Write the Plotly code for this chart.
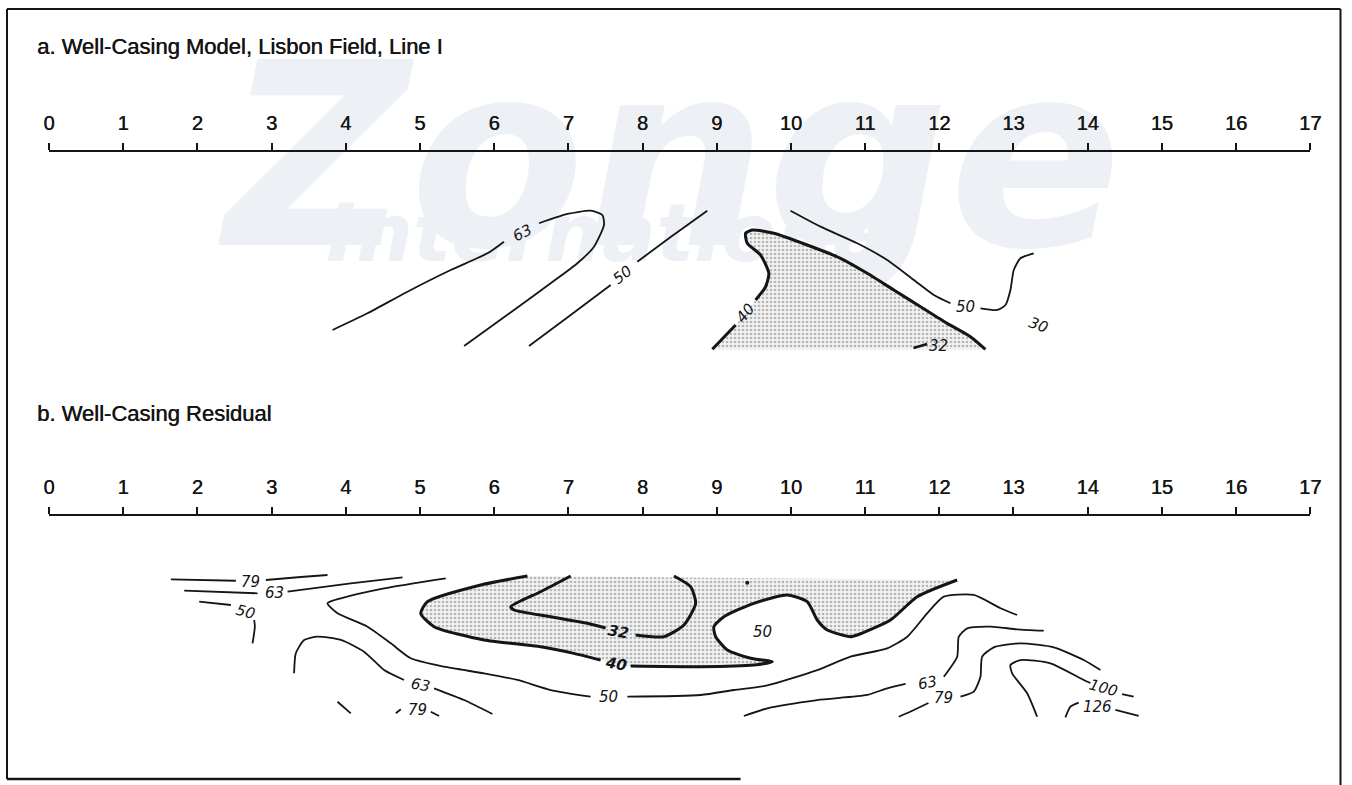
import plotly.graph_objects as go

# ---------------- data ----------------
stations = list(range(18))
station_labels = [str(s) for s in stations]

# Panel a (Well-Casing Model) contours: x = station, y = depth below profile line
a63_x = [3.822, 4.293, 4.832, 5.415, 5.910, 6.133, None, 6.605, 6.987, 7.301, 7.459, 7.481, 7.346, 7.122, 6.762, 6.268, 5.595]
a63_y = [2.398, 2.173, 1.882, 1.590, 1.365, 1.208, None, 0.960, 0.835, 0.791, 0.849, 0.983, 1.276, 1.499, 1.769, 2.128, 2.613]

a50L_x = [6.470, 7.032, 7.571, None, 7.930, 8.379, 8.873]
a50L_y = [2.613, 2.196, 1.792, None, 1.478, 1.145, 0.791]

a40_x = [8.941, 9.255, 9.389, 9.524, 9.659, 9.703, 9.592, 9.412, 9.389, 9.480, 9.771, 10.220, 10.669, 11.029, 11.387, 11.747, 12.106, 12.420, 12.622]
a40_y = [2.658, 2.331, 2.173, 1.994, 1.815, 1.634, 1.388, 1.230, 1.095, 1.051, 1.095, 1.253, 1.432, 1.634, 1.859, 2.084, 2.308, 2.488, 2.658]
a40_line_x = [8.941, 9.255, None, 9.524, 9.659, 9.703, 9.592, 9.412, 9.389, 9.480, 9.771, 10.220, 10.669, 11.029, 11.387, 11.747, 12.106, 12.420, 12.622]
a40_line_y = [2.658, 2.331, None, 1.994, 1.815, 1.634, 1.388, 1.230, 1.095, 1.051, 1.095, 1.253, 1.432, 1.634, 1.859, 2.084, 2.308, 2.488, 2.658]

a32_x = [11.652, 11.837]
a32_y = [2.640, 2.586]

a50R_x = [9.995, 10.400, 10.894, 11.298, 11.657, 11.926, 12.151, None, 12.555, 12.780, 12.892, 12.959, 13.004, 13.094, 13.273]
a50R_y = [0.791, 1.006, 1.230, 1.455, 1.724, 1.926, 2.038, None, 2.106, 2.128, 2.061, 1.859, 1.590, 1.432, 1.365]

# Panel a contour labels: text, x, y, angle
a_lab_text = ["63", "50", "40", "32", "50", "30"]
a_lab_x = [6.381, 7.728, 9.389, 11.989, 12.353, 13.336]
a_lab_y = [1.095, 1.657, 2.173, 2.613, 2.084, 2.331]
a_lab_ang = [-28, -38, -50, 0, 0, 20]

# Panel b (Well-Casing Residual) contours
b79TL_x = [1.643, 2.519, None, 2.923, 3.395, 3.754]
b79TL_y = [0.853, 0.872, None, 0.862, 0.822, 0.795]
b63TL_x = [1.823, 2.811, None, 3.216, 4.068, 4.765]
b63TL_y = [1.006, 1.041, None, 1.020, 0.907, 0.826]
b50TL_x = [2.025, 2.452, None, 2.766, 2.775, 2.744]
b50TL_y = [1.154, 1.199, None, 1.401, 1.491, 1.715]

b50_x = [5.348, 4.517, 3.934, 3.754, 3.889, 4.293, 4.607, 4.877, 5.325, 5.864, 6.314, 6.762, 7.301, None,
         7.796, 8.783, 9.232, 9.682, 10.355, 10.804, 11.298, 11.568, 11.837, 12.061, 12.465, 12.825, 13.049]
b50_y = [0.839, 0.974, 1.109, 1.176, 1.311, 1.491, 1.715, 1.917, 2.030, 2.119, 2.209, 2.344, 2.434, None,
         2.434, 2.411, 2.344, 2.283, 2.075, 1.895, 1.782, 1.626, 1.311, 1.087, 1.064, 1.243, 1.334]

b40_x = [6.449, 5.820, 5.101, 5.011, 5.190, 5.864, 6.628, 7.076, 7.436, 7.638, 7.840, 8.783, 9.501, 9.749,
         9.457, 9.143, 8.985, 8.962, 9.097, 9.501, 9.951, 10.220, 10.355, 10.490, 10.804, 10.894, 11.343, 11.702, 12.241]
b40_y = [0.808, 0.929, 1.154, 1.311, 1.491, 1.670, 1.761, 1.850, 1.940, 1.994, 2.021, 2.030, 2.007, 1.963,
         1.917, 1.805, 1.626, 1.491, 1.357, 1.176, 1.064, 1.154, 1.401, 1.536, 1.626, 1.603, 1.401, 1.087, 0.862]
b40_line_x = [6.449, 5.820, 5.101, 5.011, 5.190, 5.864, 6.628, 7.076, 7.436, None, 7.840, 8.783, 9.501, 9.749,
              9.457, 9.143, 8.985, 8.962, 9.097, 9.501, 9.951, 10.220, 10.355, 10.490, 10.804, 10.894, 11.343, 11.702, 12.241]
b40_line_y = [0.808, 0.929, 1.154, 1.311, 1.491, 1.670, 1.761, 1.850, 1.940, None, 2.021, 2.030, 2.007, 1.963,
              1.917, 1.805, 1.626, 1.491, 1.357, 1.176, 1.064, 1.154, 1.401, 1.536, 1.626, 1.603, 1.401, 1.087, 0.862]

b32_x = [7.032, 6.628, 6.224, 6.268, 6.762, 7.257, 7.503, None, 7.907, 8.289, 8.558, 8.716, 8.648, 8.424]
b32_y = [0.808, 1.020, 1.222, 1.266, 1.357, 1.445, 1.509, None, 1.603, 1.626, 1.468, 1.176, 0.952, 0.808]

b63BL_x = [3.304, 3.327, 3.439, 3.620, 3.934, 4.247, 4.517, 4.786, None, 5.190, 5.595, 5.977]
b63BL_y = [2.119, 1.850, 1.670, 1.626, 1.670, 1.828, 2.075, 2.209, None, 2.321, 2.479, 2.667]

b79BL_x = [3.889, 4.068, None, 4.675, 4.742, None, 5.146, 5.258]
b79BL_y = [2.502, 2.658, None, 2.658, 2.604, None, 2.636, 2.694]

b63R_x = [9.366, 9.682, 10.355, 11.029, 11.298, 11.545, None, 12.061, 12.241, 12.263, 12.376, 12.690, 13.049, 13.408]
b63R_y = [2.694, 2.590, 2.479, 2.411, 2.321, 2.263, None, 2.165, 1.895, 1.626, 1.513, 1.491, 1.526, 1.545]

b79R_x = [11.454, 11.657, 11.854, None, 12.286, 12.465, 12.555, 12.578, 12.734, 13.094, 13.543, 13.947, 14.172]
b79R_y = [2.704, 2.613, 2.519, None, 2.434, 2.367, 2.165, 1.895, 1.769, 1.715, 1.769, 1.940, 2.075]

b100_x = [13.319, 13.184, 12.982, 12.959, 13.094, 13.498, 13.947, 14.037, None, 14.464, 14.620]
b100_y = [2.704, 2.388, 2.119, 2.007, 1.940, 1.984, 2.209, 2.250, None, 2.398, 2.434]

b126_x = [13.700, 13.768, 13.879, None, 14.374, 14.687]
b126_y = [2.712, 2.569, 2.515, None, 2.613, 2.694]

b_dot_x = [9.412]
b_dot_y = [0.899]

b_lab_text = ["79", "63", "50", "50", "40", "32", "50", "63", "79", "63", "79", "100", "126"]
b_lab_x = [2.721, 3.035, 2.654, 7.548, 7.638, 7.683, 9.614, 5.011, 4.967, 11.837, 12.061, 14.216, 14.127]
b_lab_y = [0.885, 1.041, 1.289, 2.442, 1.994, 1.559, 1.559, 2.277, 2.613, 2.254, 2.456, 2.321, 2.569]
b_lab_ang = [0, 0, 15, 0, 10, 10, 0, 10, 0, -10, 0, 15, 0]

titles = ["a. Well-Casing Model, Lisbon Field, Line I", "b. Well-Casing Residual"]

# ---------------- figure ----------------
W, H = 1352, 785
INK = "#151515"
fig = go.Figure()


def px(t):
    """horizontal page position (px) -> paper fraction, with a small capture correction"""
    return min(max((t - 5) / 0.988, 0.5), W - 0.5) / W


def py(t):
    return 1 - t / H


def line(x, y, xa, ya, width=1.8):
    fig.add_trace(go.Scatter(x=x, y=y, xaxis=xa, yaxis=ya, mode="lines",
                             line=dict(color=INK, width=width, shape="spline", smoothing=0.6),
                             connectgaps=False, hoverinfo="skip", showlegend=False))


def stipple(x, y, xa, ya):
    fig.add_trace(go.Scatter(x=x, y=y, xaxis=xa, yaxis=ya, mode="lines", fill="toself",
                             line=dict(width=0, color="rgba(0,0,0,0)", shape="spline", smoothing=0.6),
                             fillcolor="rgba(0,0,0,0)",
                             fillpattern=dict(shape=".", fgcolor="#7a7a7a", bgcolor="#f2f2f2",
                                              size=4, solidity=0.35),
                             hoverinfo="skip", showlegend=False))


# panel a
stipple(a40_x, a40_y, "x", "y")
line(a63_x, a63_y, "x", "y")
line(a50L_x, a50L_y, "x", "y")
line(a40_line_x, a40_line_y, "x", "y", 3)
line(a50R_x, a50R_y, "x", "y")
line(a32_x, a32_y, "x", "y", 2.5)

# panel b
stipple(b40_x, b40_y, "x2", "y2")
line(b79TL_x, b79TL_y, "x2", "y2")
line(b63TL_x, b63TL_y, "x2", "y2")
line(b50TL_x, b50TL_y, "x2", "y2")
line(b50_x, b50_y, "x2", "y2")
line(b40_line_x, b40_line_y, "x2", "y2", 3)
line(b32_x, b32_y, "x2", "y2", 3)
line(b63BL_x, b63BL_y, "x2", "y2")
line(b79BL_x, b79BL_y, "x2", "y2")
line(b63R_x, b63R_y, "x2", "y2")
line(b79R_x, b79R_y, "x2", "y2")
line(b100_x, b100_y, "x2", "y2")
line(b126_x, b126_y, "x2", "y2")
fig.add_trace(go.Scatter(x=b_dot_x, y=b_dot_y, xaxis="x2", yaxis="y2", mode="markers",
                         marker=dict(color=INK, size=4), hoverinfo="skip", showlegend=False))

annotations = []
lab_font = dict(family="DejaVu Sans", size=15, color=INK, style="italic")
for t, x, y, a in zip(a_lab_text, a_lab_x, a_lab_y, a_lab_ang):
    annotations.append(dict(text=t, x=x, y=y, xref="x", yref="y", showarrow=False,
                            textangle=a, font=lab_font))
for t, x, y, a in zip(b_lab_text, b_lab_x, b_lab_y, b_lab_ang):
    f = dict(lab_font)
    if t in ("40", "32"):
        f["weight"] = "bold"
    annotations.append(dict(text=t, x=x, y=y, xref="x2", yref="y2", showarrow=False,
                            textangle=a, font=f))

title_font = dict(family="Liberation Sans", size=22, color=INK, shadow="0.5px 0 0 #151515")
annotations.append(dict(text=titles[0], x=px(34), y=py(47), xref="paper", yref="paper",
                        xanchor="left", yanchor="middle", showarrow=False, font=title_font))
annotations.append(dict(text=titles[1], x=px(34), y=py(413), xref="paper", yref="paper",
                        xanchor="left", yanchor="middle", showarrow=False, font=title_font))

xdom = [px(48), px(1310)]
xcommon = dict(range=[0, 17], domain=xdom, side="top", tickmode="array", tickvals=stations,
               ticktext=station_labels, ticks="outside", ticklen=7, tickwidth=1.6, tickcolor=INK,
               showline=True, linecolor=INK, linewidth=1.6, showgrid=False, zeroline=False,
               tickfont=dict(family="Liberation Sans", size=20, color=INK, shadow="0.4px 0 0 #151515"),
               ticklabelstandoff=5, fixedrange=True)
ya_dom = [py(400), py(152)]
yb_dom = [py(770), py(516)]
S = (1310 - 48) / 17.0

WM = "#edf0f5"
shapes = [
    # watermark (faint, behind)
    dict(type="rect", xref="paper", yref="paper", x0=0, x1=1, y0=py(272), y1=py(4),
         line=dict(width=0), fillcolor="rgba(0,0,0,0)", layer="below",
         label=dict(text="Zonge", font=dict(family="DejaVu Sans", size=255, color=WM,
                                             weight="bold", style="italic"),
                    textposition="middle center")),
    dict(type="rect", xref="paper", yref="paper", x0=px(330), x1=px(910), y0=py(272), y1=py(182),
         line=dict(width=0), fillcolor="rgba(0,0,0,0)", layer="below",
         label=dict(text="International", font=dict(family="DejaVu Sans", size=80, color=WM,
                                                     weight="bold", style="italic"),
                    textposition="middle center")),
    # frame
    dict(type="line", xref="paper", yref="paper", x0=px(6), x1=px(1346), y0=py(9), y1=py(9),
         line=dict(color=INK, width=2)),
    dict(type="line", xref="paper", yref="paper", x0=px(6), x1=px(6), y0=py(9), y1=py(779),
         line=dict(color=INK, width=2)),
    dict(type="line", xref="paper", yref="paper", x0=px(1346), x1=px(1346), y0=py(9), y1=0,
         line=dict(color=INK, width=2)),
    dict(type="line", xref="paper", yref="paper", x0=px(6), x1=px(740), y0=py(779), y1=py(779),
         line=dict(color=INK, width=2.5)),
]

fig.update_layout(
    width=W, height=H, margin=dict(l=0, r=0, t=0, b=0, pad=0),
    paper_bgcolor="white", plot_bgcolor="rgba(0,0,0,0)",
    xaxis=dict(xcommon, anchor="y"),
    yaxis=dict(domain=ya_dom, range=[(400 - 152) / S, 0], visible=False, fixedrange=True, anchor="x"),
    xaxis2=dict(xcommon, anchor="y2"),
    yaxis2=dict(domain=yb_dom, range=[(770 - 516) / S, 0], visible=False, fixedrange=True, anchor="x2"),
    annotations=annotations, shapes=shapes, showlegend=False,
)

fig.write_html("out.html", config={"responsive": False, "displayModeBar": False},
               post_script="document.body.style.margin='0';document.body.style.overflow='hidden';")
